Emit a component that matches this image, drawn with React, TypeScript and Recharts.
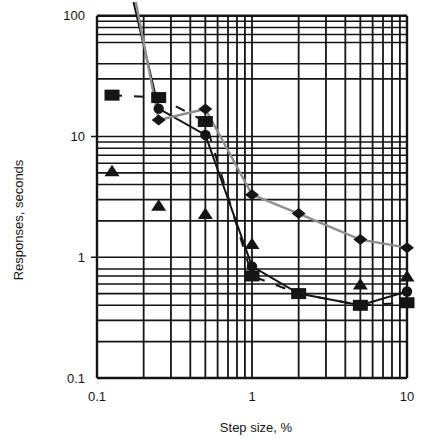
import React from 'react';
import { LineChart, Line, XAxis, YAxis, ReferenceLine, Label } from 'recharts';

const circleX = [0.172, 0.25, 0.5, 1, 2, 5, 10];
const circleY = [130, 17, 10.3, 0.84, 0.5, 0.4, 0.52];
const diamondX = [0.178, 0.25, 0.5, 1, 2, 5, 10];
const diamondY = [130, 13.7, 16.9, 3.3, 2.3, 1.4, 1.2];
const squareX = [0.125, 0.25, 0.5, 1, 2, 5, 10];
const squareY = [22, 21, 13.3, 0.7, 0.5, 0.4, 0.42];
const triangleX = [0.125, 0.25, 0.5, 1, 5, 10];
const triangleY = [5.2, 2.7, 2.3, 1.3, 0.6, 0.7];

const xTicks = [0.1, 1, 10];
const yTicks = [0.1, 1, 10, 100];
const xGrid = [0.2, 0.3, 0.4, 0.5, 0.6, 0.7, 0.8, 0.9, 1, 2, 3, 4, 5, 6, 7, 8, 9];
const yGrid = [0.2, 0.3, 0.4, 0.5, 0.6, 0.7, 0.8, 1, 2, 3, 4, 5, 6, 7, 8, 9, 10, 30, 40, 60, 70, 80, 90];

const X_MIN = 0.1;
const X_MAX = 10;
const Y_MIN = 0.1;
const Y_MAX = 100;
const Y_TOP = 135; // lines run a little past the frame

const zip = (xs: number[], ys: number[]) => xs.map((x, i) => ({ x, y: ys[i] }));
const circles = zip(circleX, circleY);
const diamonds = zip(diamondX, diamondY);
const squares = zip(squareX, squareY);
const triangles = zip(triangleX, triangleY);

const INK = '#151515';
const FONT = '"Liberation Sans", Arial, sans-serif';

const hidden = (p: any) => p.payload.y > Y_MAX;

const circleDot = (p: any) =>
  hidden(p) ? <g key={p.index} /> : <circle key={p.index} cx={p.cx} cy={p.cy} r={5.2} fill={INK} />;

const squareDot = (p: any) =>
  hidden(p) ? <g key={p.index} /> : <rect key={p.index} x={p.cx - 7.5} y={p.cy - 5.5} width={15} height={11} fill={INK} />;

const diamondDot = (p: any) =>
  hidden(p) ? (
    <g key={p.index} />
  ) : (
    <path key={p.index} d={`M${p.cx - 7},${p.cy}L${p.cx},${p.cy - 5.5}L${p.cx + 7},${p.cy}L${p.cx},${p.cy + 5.5}Z`} fill={INK} />
  );

const triangleDot = (p: any) => (
  <path key={p.index} d={`M${p.cx - 7.5},${p.cy + 5.5}L${p.cx},${p.cy - 6}L${p.cx + 7.5},${p.cy + 5.5}Z`} fill={INK} />
);

const YTick = ({ x, y, payload }: any) => (
  <g>
    {(payload.value === 1 || payload.value === 10) && (
      <line x1={x + 6} x2={x + 12} y1={y} y2={y} stroke={INK} strokeWidth={1.5} />
    )}
    <text x={x} y={y + 4.5} textAnchor="end" fontSize={13} fontFamily={FONT} fill={INK}>
      {payload.value}
    </text>
  </g>
);

const XTick = ({ x, y, payload }: any) => (
  <text x={x} y={y + 11} textAnchor="middle" fontSize={13} fontFamily={FONT} fill={INK}>
    {payload.value}
  </text>
);

const YLabel = ({ viewBox }: any) => {
  const lx = viewBox.x + 23;
  const ly = 220;
  return (
    <text x={lx} y={ly} transform={`rotate(-90 ${lx} ${ly})`} textAnchor="middle" fontSize={13} fontFamily={FONT} fill={INK}>
      Responses, seconds
    </text>
  );
};

export default function App() {
  return (
    <div style={{ width: 430, height: 439 }}>
      <style>{'body{margin:0}'}</style>
      <LineChart width={430} height={439} margin={{ top: 0, right: 23, bottom: 0, left: 0 }}>
        <XAxis
          dataKey="x"
          type="number"
          scale="log"
          domain={[X_MIN, X_MAX]}
          ticks={xTicks}
          axisLine={false}
          tickLine={false}
          tickSize={6}
          tickMargin={6}
          tick={<XTick />}
          height={61}
        >
          <Label value="Step size, %" position="insideBottom" offset={7} dx={4} fontSize={13} fontFamily={FONT} fill={INK} />
        </XAxis>
        <YAxis
          type="number"
          scale="log"
          domain={[Y_MIN, Y_TOP]}
          ticks={yTicks}
          axisLine={false}
          tickLine={false}
          tickSize={6}
          tickMargin={6}
          tick={<YTick />}
          width={97}
        >
          <Label content={<YLabel />} />
        </YAxis>

        {xGrid.map((v) => (
          <ReferenceLine key={'vx' + v} segment={[{ x: v, y: Y_MIN }, { x: v, y: Y_MAX }]} stroke={INK} strokeWidth={1.8} />
        ))}
        {yGrid.map((v) => (
          <ReferenceLine key={'hy' + v} segment={[{ x: X_MIN, y: v }, { x: X_MAX, y: v }]} stroke={INK} strokeWidth={1.6} />
        ))}
        <ReferenceLine segment={[{ x: X_MIN, y: Y_MIN }, { x: X_MIN, y: Y_MAX }]} stroke={INK} strokeWidth={2.4} />
        <ReferenceLine segment={[{ x: X_MAX, y: Y_MIN }, { x: X_MAX, y: Y_MAX }]} stroke={INK} strokeWidth={2.4} />
        <ReferenceLine segment={[{ x: X_MIN, y: Y_MIN }, { x: X_MAX, y: Y_MIN }]} stroke={INK} strokeWidth={2.4} />
        <ReferenceLine segment={[{ x: X_MIN, y: Y_MAX }, { x: X_MAX, y: Y_MAX }]} stroke={INK} strokeWidth={2.4} />

        <Line data={circles} dataKey="y" stroke={INK} strokeWidth={2} dot={circleDot} activeDot={false} isAnimationActive={false} />
        <Line data={diamonds} dataKey="y" stroke="#8f8f8f" strokeWidth={2.4} dot={diamondDot} activeDot={false} isAnimationActive={false} />
        <Line data={squares} dataKey="y" stroke={INK} strokeWidth={2} strokeDasharray="10 12" dot={squareDot} activeDot={false} isAnimationActive={false} />
        <Line data={triangles} dataKey="y" stroke="none" dot={triangleDot} activeDot={false} isAnimationActive={false} />
      </LineChart>
    </div>
  );
}
